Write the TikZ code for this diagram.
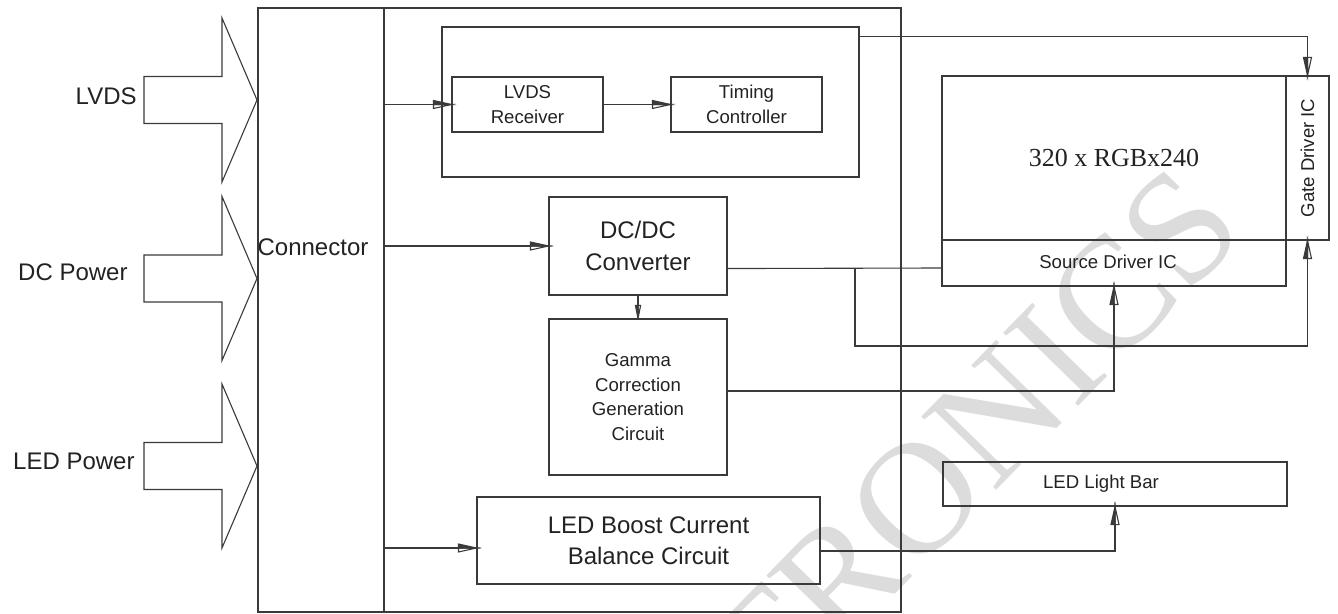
\documentclass[tikz,border=0pt]{standalone}
\usepackage{fontspec}
\setmainfont{Liberation Sans}
\newfontfamily\seriffam{Liberation Serif}
\usetikzlibrary{arrows.meta,calc}
\definecolor{ln}{HTML}{3A3A3A}
\definecolor{tx}{HTML}{222222}
\definecolor{wm}{HTML}{DCDCDC}
\pgfdeclarearrow{
  name = HalfA,
  parameters = {\the\pgfarrowlength,\the\pgfarrowwidth},
  setup code = {
    \pgfarrowssettipend{0pt}
    \pgfarrowssetlineend{-\pgfarrowlength}
    \pgfarrowshullpoint{0pt}{0pt}
    \pgfarrowsupperhullpoint{-\pgfarrowlength}{0.5\pgfarrowwidth}
    \pgfarrowssavethe\pgfarrowlength
    \pgfarrowssavethe\pgfarrowwidth
  },
  drawing code = {
    \pgfsetdash{}{0pt}
    \pgfsetmiterjoin
    \pgfpathmoveto{\pgfpointorigin}
    \pgfpathlineto{\pgfpoint{-\pgfarrowlength}{0.5\pgfarrowwidth}}
    \pgfpathlineto{\pgfpoint{-\pgfarrowlength}{0pt}}
    \pgfpathclose
    \pgfusepathqfillstroke
    \pgfpathmoveto{\pgfpointorigin}
    \pgfpathlineto{\pgfpoint{-\pgfarrowlength}{-0.5\pgfarrowwidth}}
    \pgfpathlineto{\pgfpoint{-\pgfarrowlength}{0pt}}
    \pgfpathclose
    \pgfusepathqstroke
  },
  defaults = {length=9pt, width=4pt}
}
\pgfdeclarearrow{
  name = HalfB,
  parameters = {\the\pgfarrowlength,\the\pgfarrowwidth},
  setup code = {
    \pgfarrowssettipend{0pt}
    \pgfarrowssetlineend{-\pgfarrowlength}
    \pgfarrowshullpoint{0pt}{0pt}
    \pgfarrowsupperhullpoint{-\pgfarrowlength}{0.5\pgfarrowwidth}
    \pgfarrowssavethe\pgfarrowlength
    \pgfarrowssavethe\pgfarrowwidth
  },
  drawing code = {
    \pgfsetdash{}{0pt}
    \pgfsetmiterjoin
    \pgfpathmoveto{\pgfpointorigin}
    \pgfpathlineto{\pgfpoint{-\pgfarrowlength}{-0.5\pgfarrowwidth}}
    \pgfpathlineto{\pgfpoint{-\pgfarrowlength}{0pt}}
    \pgfpathclose
    \pgfusepathqfillstroke
    \pgfpathmoveto{\pgfpointorigin}
    \pgfpathlineto{\pgfpoint{-\pgfarrowlength}{0.5\pgfarrowwidth}}
    \pgfpathlineto{\pgfpoint{-\pgfarrowlength}{0pt}}
    \pgfpathclose
    \pgfusepathqstroke
  },
  defaults = {length=9pt, width=4pt}
}
\tikzset{
  blk/.style={draw=ln, line width=0.55pt, inner sep=0pt, align=center, text=tx},
  bigf/.style={font=\fontsize{12}{16}\selectfont},
  smf/.style={font=\fontsize{9.3}{12.3}\selectfont},
  lbl/.style={text=tx, inner sep=0pt, align=center},
  wire/.style={draw=ln, line width=0.55pt},
  arr/.style={wire, -{HalfA[length=9pt,width=4pt]}},
  arrd/.style={wire, -{HalfB[length=9pt,width=4pt]}},
  arrs/.style={wire, -{HalfB[length=6.5pt,width=2.6pt]}},
}
\begin{document}
\begin{tikzpicture}[x=0.5pt,y=-0.5pt]
\useasboundingbox (0,0) rectangle (1338,614);
% watermark
\node[font=\seriffam\fontsize{80}{80}\selectfont, text=wm, rotate=45.7, inner sep=0pt] (wmk) at (972,441) {TRONICS};
% input arrows
\foreach \yc in {100,278.5,466}{
  \draw[wire, line join=miter] (144,\yc-23.5) -- (222,\yc-23.5) -- (222,\yc-82) -- (257,\yc)
     -- (222,\yc+82) -- (222,\yc+23.5) -- (144,\yc+23.5) -- cycle;
}
\node[lbl, bigf, anchor=east] (l1) at (137,96.5) {LVDS};
\node[lbl, bigf, anchor=east] (l2) at (128,272) {DC Power};
\node[lbl, bigf, anchor=east] (l3) at (135,461) {LED Power};
% boxes
\node[blk, minimum width=63pt, minimum height=302pt] (conn) at (321,310) {};
\node[lbl, bigf] (conntxt) at (313,247.5) {Connector};
\node[blk, minimum width=258.5pt, minimum height=302pt] (main) at (642.5,310) {};
\node[blk, minimum width=208.5pt, minimum height=75pt] (grp) at (650.5,102) {};
\node[blk, smf, minimum width=75.5pt, minimum height=27.5pt] (rx) at (527.5,104.5) {LVDS\\Receiver};
\node[blk, smf, minimum width=75.5pt, minimum height=27.5pt] (tc) at (746.5,104.5) {Timing\\Controller};
\node[blk, bigf, minimum width=89pt, minimum height=49pt] (dc) at (638,246) {DC/DC\\Converter};
\node[blk, smf, minimum width=89pt, minimum height=78pt] (gam) at (638,397) {Gamma\\Correction\\Generation\\Circuit};
\node[blk, font=\fontsize{12}{15.5}\selectfont, minimum width=171.5pt, minimum height=43.5pt] (boost) at (648.5,540.5) {LED Boost Current\\Balance Circuit};
\node[blk, font=\seriffam\fontsize{13}{15}\selectfont, minimum width=172pt, minimum height=82pt] (disp) at (1114,158) {320 x RGBx240};
\node[blk, minimum width=21.5pt, minimum height=82pt] (gate) at (1307.5,158) {};
\node[lbl, smf, rotate=90] (gatetxt) at (1307.5,158) {Gate Driver IC};
\node[blk, minimum width=172pt, minimum height=23pt] (src) at (1114,263) {};
\node[lbl, smf] (srctxt) at (1108,262) {Source Driver IC};
\node[blk, minimum width=172pt, minimum height=22pt] (bar) at (1115,484) {};
\node[lbl, smf] (bartxt) at (1101,484) {LED Light Bar};
% connectors
\draw[arr] (rx.west -| conn.east) -- (rx.west);
\draw[arr] (rx.east) -- (tc.west);
\draw[arrd] ($(grp.north east)+(0,10)$) -| (gate.north);
\draw[arr] (dc.west -| conn.east) -- (dc.west);
\draw[arrs] (dc.south) -- (gam.north);
\coordinate (j1) at (855,268);
\coordinate (j2) at (855,346);
\draw[wire] ($(dc.south east)+(0,-27)$) -- (src.west |- j1);
\draw[arr] (j1) -- (j2) -| (gate.south);
\draw[arr] ($(gam.east)+(0,-6)$) -| (src.south);
\coordinate (bw) at ($(boost.west)+(0,7.5)$);
\draw[arr] (bw -| conn.east) -- (bw);
\draw[arr] ($(boost.east)+(0,10.5)$) -| (bar.south);
\end{tikzpicture}
\end{document}
